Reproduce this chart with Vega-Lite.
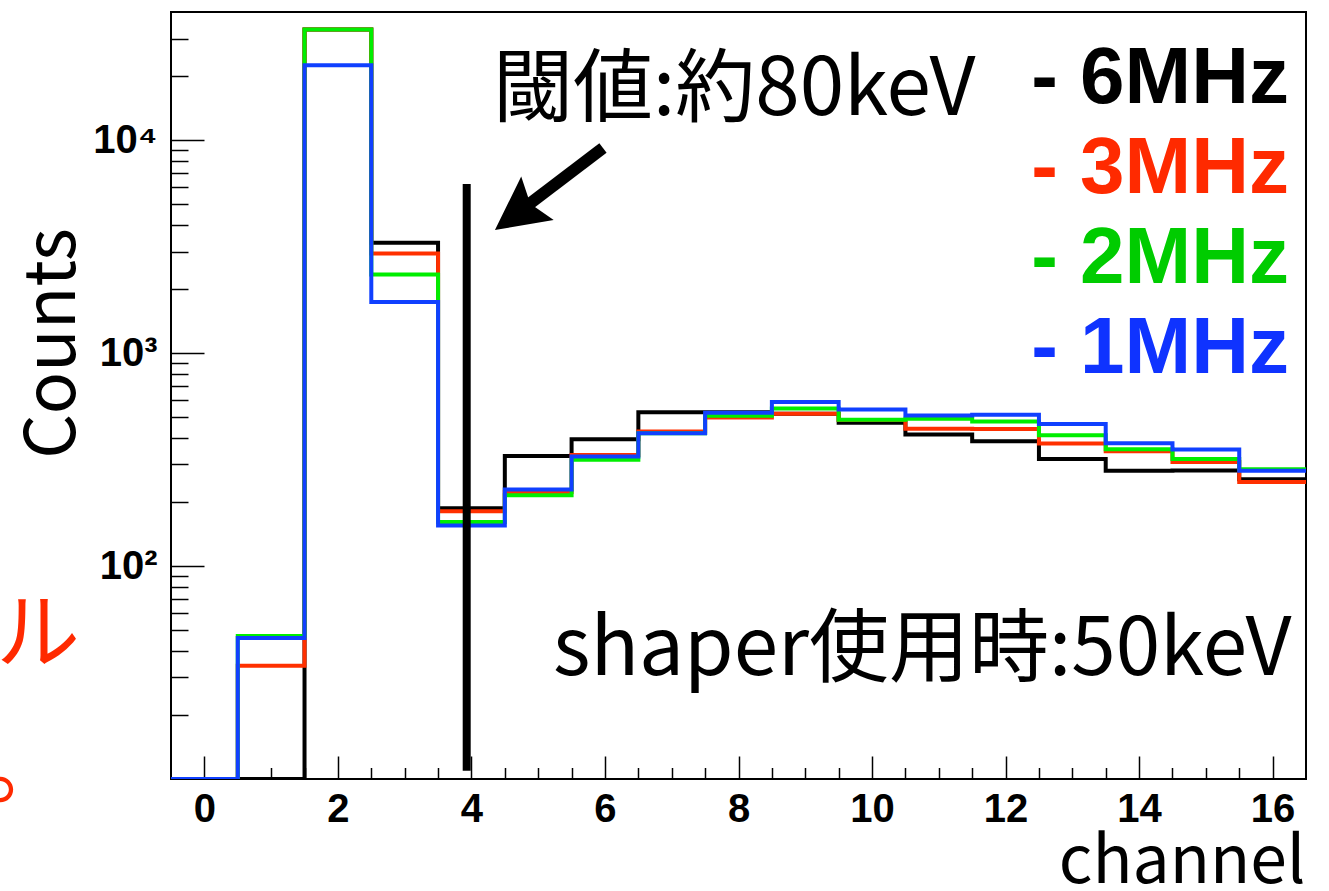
{
  "$schema": "https://vega.github.io/schema/vega-lite/v6.json",
  "width": 1135,
  "height": 767,
  "autosize": {"type": "none"},
  "padding": {"left": 171, "top": 12, "right": 23, "bottom": 112},
  "background": "white",
  "config": {
    "view": {"stroke": "black", "strokeWidth": 2},
    "axis": {"grid": false, "domain": false, "tickColor": "black", "tickWidth": 1.5, "labelColor": "black", "titleColor": "black", "labelFlush": false, "labelOverlap": false}
  },
  "resolve": {"axis": {"x": "independent", "y": "independent"}, "scale": {"color": "independent"}},
  "layer": [
    {
      "data": {"values": [
        {"series": "6MHz", "edge": -0.5, "counts": 0},
        {"series": "6MHz", "edge": 0.5, "counts": 0},
        {"series": "6MHz", "edge": 1.5, "counts": 33100},
        {"series": "6MHz", "edge": 2.5, "counts": 3300},
        {"series": "6MHz", "edge": 3.5, "counts": 187},
        {"series": "6MHz", "edge": 4.5, "counts": 329},
        {"series": "6MHz", "edge": 5.5, "counts": 394},
        {"series": "6MHz", "edge": 6.5, "counts": 527},
        {"series": "6MHz", "edge": 7.5, "counts": 527},
        {"series": "6MHz", "edge": 8.5, "counts": 519},
        {"series": "6MHz", "edge": 9.5, "counts": 471},
        {"series": "6MHz", "edge": 10.5, "counts": 415},
        {"series": "6MHz", "edge": 11.5, "counts": 386},
        {"series": "6MHz", "edge": 12.5, "counts": 318},
        {"series": "6MHz", "edge": 13.5, "counts": 280},
        {"series": "6MHz", "edge": 14.5, "counts": 281},
        {"series": "6MHz", "edge": 15.5, "counts": 256},
        {"series": "6MHz", "edge": 16.5, "counts": 256},
        {"series": "3MHz", "edge": -0.5, "counts": 0},
        {"series": "3MHz", "edge": 0.5, "counts": 34},
        {"series": "3MHz", "edge": 1.5, "counts": 33100},
        {"series": "3MHz", "edge": 2.5, "counts": 2935},
        {"series": "3MHz", "edge": 3.5, "counts": 181},
        {"series": "3MHz", "edge": 4.5, "counts": 223},
        {"series": "3MHz", "edge": 5.5, "counts": 332},
        {"series": "3MHz", "edge": 6.5, "counts": 429},
        {"series": "3MHz", "edge": 7.5, "counts": 498},
        {"series": "3MHz", "edge": 8.5, "counts": 519},
        {"series": "3MHz", "edge": 9.5, "counts": 485},
        {"series": "3MHz", "edge": 10.5, "counts": 442},
        {"series": "3MHz", "edge": 11.5, "counts": 440},
        {"series": "3MHz", "edge": 12.5, "counts": 376},
        {"series": "3MHz", "edge": 13.5, "counts": 346},
        {"series": "3MHz", "edge": 14.5, "counts": 308},
        {"series": "3MHz", "edge": 15.5, "counts": 248},
        {"series": "3MHz", "edge": 16.5, "counts": 248},
        {"series": "2MHz", "edge": -0.5, "counts": 0},
        {"series": "2MHz", "edge": 0.5, "counts": 47},
        {"series": "2MHz", "edge": 1.5, "counts": 33100},
        {"series": "2MHz", "edge": 2.5, "counts": 2339},
        {"series": "2MHz", "edge": 3.5, "counts": 161},
        {"series": "2MHz", "edge": 4.5, "counts": 215},
        {"series": "2MHz", "edge": 5.5, "counts": 316},
        {"series": "2MHz", "edge": 6.5, "counts": 421},
        {"series": "2MHz", "edge": 7.5, "counts": 508},
        {"series": "2MHz", "edge": 8.5, "counts": 550},
        {"series": "2MHz", "edge": 9.5, "counts": 487},
        {"series": "2MHz", "edge": 10.5, "counts": 492},
        {"series": "2MHz", "edge": 11.5, "counts": 478},
        {"series": "2MHz", "edge": 12.5, "counts": 412},
        {"series": "2MHz", "edge": 13.5, "counts": 354},
        {"series": "2MHz", "edge": 14.5, "counts": 318},
        {"series": "2MHz", "edge": 15.5, "counts": 285},
        {"series": "2MHz", "edge": 16.5, "counts": 285},
        {"series": "1MHz", "edge": -0.5, "counts": 0},
        {"series": "1MHz", "edge": 0.5, "counts": 46},
        {"series": "1MHz", "edge": 1.5, "counts": 22500},
        {"series": "1MHz", "edge": 2.5, "counts": 1738},
        {"series": "1MHz", "edge": 3.5, "counts": 155},
        {"series": "1MHz", "edge": 4.5, "counts": 229},
        {"series": "1MHz", "edge": 5.5, "counts": 327},
        {"series": "1MHz", "edge": 6.5, "counts": 421},
        {"series": "1MHz", "edge": 7.5, "counts": 525},
        {"series": "1MHz", "edge": 8.5, "counts": 589},
        {"series": "1MHz", "edge": 9.5, "counts": 544},
        {"series": "1MHz", "edge": 10.5, "counts": 510},
        {"series": "1MHz", "edge": 11.5, "counts": 514},
        {"series": "1MHz", "edge": 12.5, "counts": 465},
        {"series": "1MHz", "edge": 13.5, "counts": 377},
        {"series": "1MHz", "edge": 14.5, "counts": 353},
        {"series": "1MHz", "edge": 15.5, "counts": 280},
        {"series": "1MHz", "edge": 16.5, "counts": 280}
      ]},
      "mark": {"type": "line", "interpolate": "step-after", "strokeWidth": 4, "invalid": "show", "clip": true},
      "encoding": {
        "x": {
          "field": "edge", "type": "quantitative",
          "scale": {"domain": [-0.5, 16.5], "nice": false, "zero": false},
          "axis": {
            "orient": "bottom", "values": [0, 2, 4, 6, 8, 10, 12, 14, 16], "format": "d",
            "tickSize": -23, "labelPadding": 33,
            "labelFont": "Liberation Sans", "labelFontWeight": "bold", "labelFontSize": 40,
            "title": "channel", "titleFont": "Noto Sans CJK JP", "titleFontWeight": "normal", "titleFontSize": 66,
            "titleAlign": "right", "titleBaseline": "alphabetic", "titleX": 1134, "titleY": 103
          }
        },
        "y": {
          "field": "counts", "type": "quantitative",
          "scale": {"type": "log", "domain": [10, 40000], "nice": false, "clamp": true},
          "axis": {
            "orient": "left", "values": [100, 1000, 10000],
            "labelExpr": "datum.value == 100 ? '10²' : datum.value == 1000 ? '10³' : '10⁴'",
            "tickSize": -33, "labelPadding": 47,
            "labelFont": "Liberation Sans", "labelFontWeight": "bold", "labelFontSize": 40,
            "title": "Counts", "titleFont": "Noto Sans CJK JP", "titleFontWeight": "normal", "titleFontSize": 70,
            "titleAngle": 270, "titleAlign": "center", "titleBaseline": "middle", "titleX": -118, "titleY": 331
          }
        },
        "color": {
          "field": "series", "type": "nominal",
          "scale": {"domain": ["6MHz", "3MHz", "2MHz", "1MHz"], "range": ["#000000", "#ff3000", "#00ee00", "#1040ff"]},
          "legend": null
        }
      }
    },
    {
      "data": {"values": [{"threshold": 3.929, "from": 10.94, "to": 6228}]},
      "mark": {"type": "rule", "strokeWidth": 8, "color": "black"},
      "encoding": {
        "x": {
          "field": "threshold", "type": "quantitative",
          "axis": {"orient": "bottom", "values": [0.5, 1, 1.5, 2.5, 3, 3.5, 4.5, 5, 5.5, 6.5, 7, 7.5, 8.5, 9, 9.5, 10.5, 11, 11.5, 12.5, 13, 13.5, 14.5, 15, 15.5], "tickSize": -11.5, "labels": false, "title": null}
        },
        "y": {
          "field": "from", "type": "quantitative",
          "axis": {"orient": "left", "values": [20, 30, 40, 50, 60, 70, 80, 90, 200, 300, 400, 500, 600, 700, 800, 900, 2000, 3000, 4000, 5000, 6000, 7000, 8000, 9000, 20000, 30000], "tickSize": -17, "labels": false, "title": null}
        },
        "y2": {"field": "to"}
      }
    },
    {
      "data": {"values": [{"x0": 5.97, "y0": 9192, "x1": 4.847, "y1": 4963}]},
      "mark": {"type": "rule", "strokeWidth": 12, "color": "black", "strokeCap": "butt"},
      "encoding": {
        "x": {"field": "x0", "type": "quantitative", "axis": null},
        "y": {"field": "y0", "type": "quantitative", "axis": null},
        "x2": {"field": "x1"},
        "y2": {"field": "y1"}
      }
    },
    {
      "data": {"values": [{"x": 4.75, "y": 4692}]},
      "mark": {"type": "point", "shape": "M0,-1L0.82,0.6L0,0.33L-0.82,0.6Z", "filled": true, "color": "black", "opacity": 1, "size": 4390, "angle": 233.3, "strokeWidth": 0},
      "encoding": {
        "x": {"field": "x", "type": "quantitative", "axis": null},
        "y": {"field": "y", "type": "quantitative", "axis": null}
      }
    },
    {
      "data": {"values": [
        {"series": "6MHz", "label": "- 6MHz", "at": 14950},
        {"series": "3MHz", "label": "- 3MHz", "at": 5649},
        {"series": "2MHz", "label": "- 2MHz", "at": 2135},
        {"series": "1MHz", "label": "- 1MHz", "at": 807}
      ]},
      "mark": {"type": "text", "align": "right", "baseline": "alphabetic", "font": "Liberation Sans", "fontWeight": "bold", "fontSize": 80},
      "encoding": {
        "x": {"datum": 16.245, "type": "quantitative", "axis": null},
        "y": {"field": "at", "type": "quantitative", "axis": null},
        "text": {"field": "label"},
        "color": {
          "field": "series", "type": "nominal",
          "scale": {"domain": ["6MHz", "3MHz", "2MHz", "1MHz"], "range": ["#000000", "#ff2a00", "#00cc00", "#0f33ff"]},
          "legend": null
        }
      }
    },
    {
      "data": {"values": [
        {"note": "閾値:約80keV", "x": 4.323, "y": 13136},
        {"note": "shaper使用時:50keV", "x": 5.222, "y": 30.8}
      ]},
      "mark": {"type": "text", "align": "left", "baseline": "alphabetic", "font": "Noto Sans CJK JP", "fontSize": 80, "color": "black"},
      "encoding": {
        "x": {"field": "x", "type": "quantitative", "axis": null},
        "y": {"field": "y", "type": "quantitative", "axis": null},
        "text": {"field": "note"}
      }
    },
    {
      "data": {"values": [{"note": "ル", "x": -3.12, "y": 35.4}]},
      "mark": {"type": "text", "align": "left", "baseline": "alphabetic", "font": "Noto Sans CJK JP", "fontSize": 84, "color": "#ff2a00"},
      "encoding": {
        "x": {"field": "x", "type": "quantitative", "axis": null},
        "y": {"field": "y", "type": "quantitative", "axis": null},
        "text": {"field": "note"}
      }
    },
    {
      "data": {"values": [{"note": "。", "x": -3.3, "y": 10}]},
      "mark": {"type": "text", "align": "left", "baseline": "alphabetic", "font": "Noto Sans CJK JP", "fontSize": 84, "color": "#ff2a00", "dy": 18},
      "encoding": {
        "x": {"field": "x", "type": "quantitative", "axis": null},
        "y": {"field": "y", "type": "quantitative", "axis": null},
        "text": {"field": "note"}
      }
    }
  ]
}
